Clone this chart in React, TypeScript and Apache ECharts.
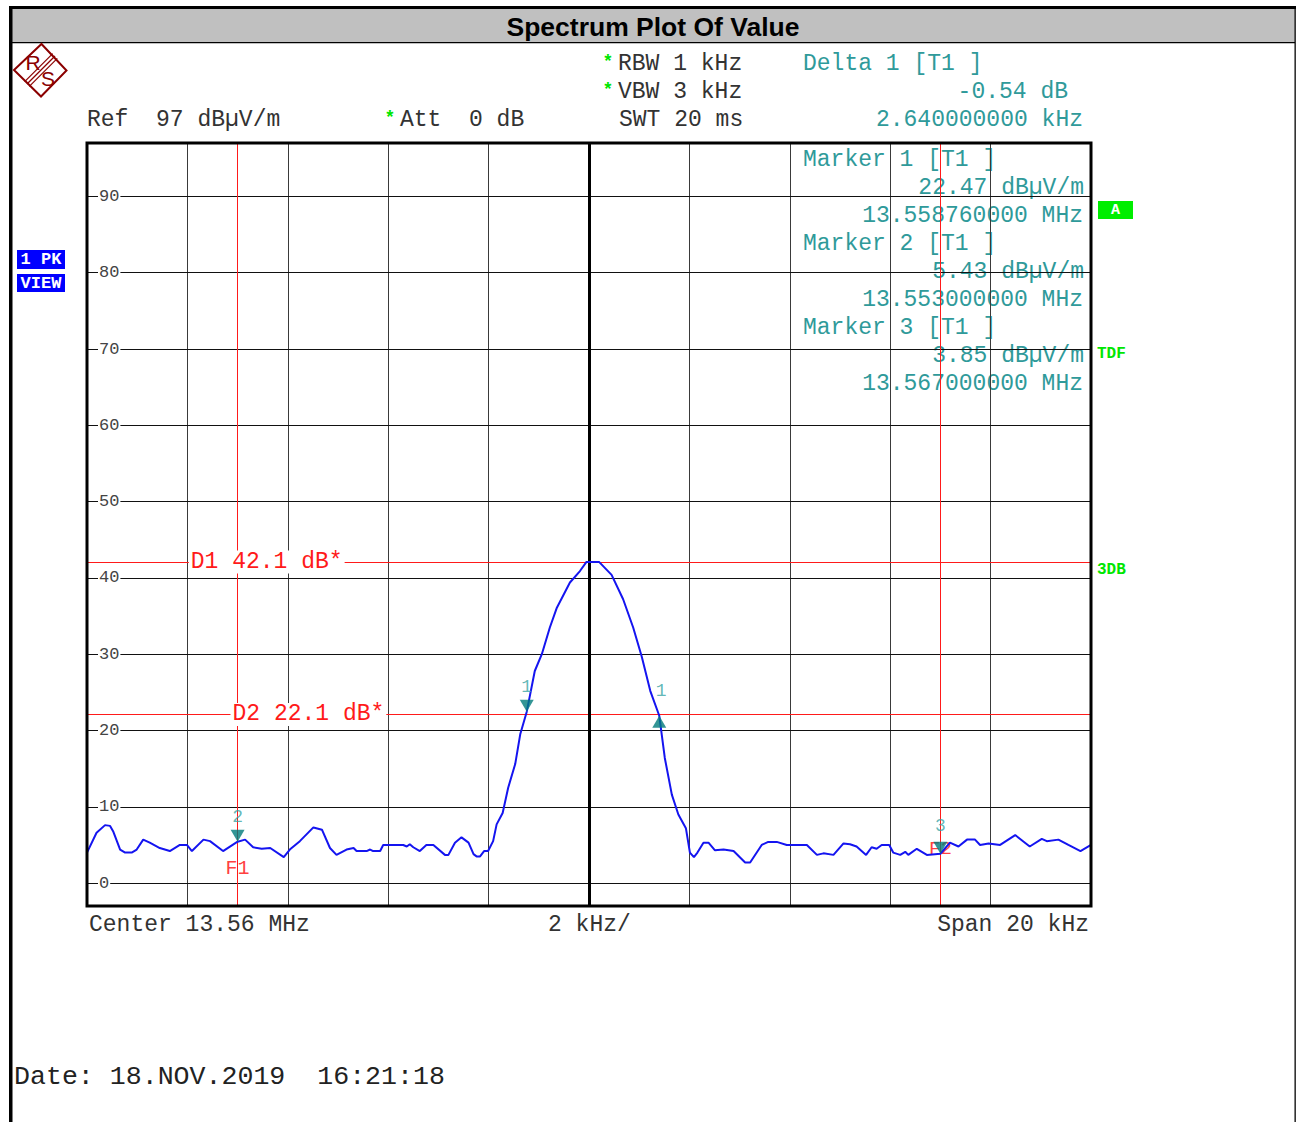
import React, { useEffect, useRef } from "react";
import * as echarts from "echarts";

// ---- Data (frequency offset from centre 13.56 MHz, in kHz; level in dBµV/m) ----
const traceFreqKHz = [
  -10.0, -9.81, -9.64, -9.54, -9.48, -9.34, -9.24, -9.11, -9.01, -8.88, -8.75, -8.55, -8.35, -8.15, -8.01,
  -7.91, -7.68, -7.55, -7.29, -7.0, -6.85, -6.69, -6.52, -6.35, -6.08, -5.96, -5.76, -5.49, -5.32, -5.16,
  -5.03, -4.83, -4.69, -4.63, -4.43, -4.36, -4.3, -4.16, -4.1, -3.7, -3.63, -3.57, -3.5, -3.37, -3.24,
  -3.1, -2.87, -2.8, -2.67, -2.54, -2.4, -2.3, -2.24, -2.17, -2.09, -2.01, -1.91, -1.84, -1.72, -1.61,
  -1.47, -1.37, -1.24, -1.08, -0.94, -0.78, -0.64, -0.38, -0.18, -0.05, 0.2, 0.45, 0.68, 0.88, 1.05,
  1.22, 1.4, 1.51, 1.65, 1.78, 1.93, 2.01, 2.09, 2.16, 2.28, 2.38, 2.51, 2.68, 2.88, 3.11,
  3.21, 3.44, 3.57, 3.74, 3.94, 4.34, 4.54, 4.67, 4.87, 5.07, 5.2, 5.33, 5.52, 5.63, 5.73,
  5.83, 5.98, 6.06, 6.2, 6.3, 6.36, 6.53, 6.73, 7.0, 7.19, 7.36, 7.53, 7.69, 7.79, 7.96,
  8.19, 8.49, 8.78, 9.02, 9.12, 9.35, 9.55, 9.79, 10.0,
];
const traceLevel = [
  4.0, 6.6, 7.6, 7.5, 6.8, 4.4, 4.0, 4.0, 4.4, 5.7, 5.3, 4.6, 4.2, 5.0, 5.0,
  4.2, 5.7, 5.5, 4.2, 5.43, 5.7, 4.7, 4.5, 4.6, 3.4, 4.4, 5.5, 7.3, 7.0, 4.6,
  3.7, 4.4, 4.6, 4.2, 4.2, 4.4, 4.2, 4.2, 5.0, 5.0, 4.8, 5.1, 4.7, 4.2, 5.0,
  5.0, 3.7, 3.7, 5.3, 6.0, 5.3, 3.8, 3.5, 3.5, 4.2, 4.2, 5.5, 7.7, 9.2, 12.5,
  15.6, 19.5, 22.47, 27.8, 30.0, 33.5, 36.1, 39.4, 40.9, 42.1, 42.1, 40.4, 37.2, 33.5, 29.7,
  25.2, 21.93, 16.4, 11.6, 9.0, 7.2, 4.0, 3.4, 4.0, 5.3, 5.3, 4.3, 4.4, 4.2, 2.7,
  2.7, 5.0, 5.4, 5.4, 5.0, 5.0, 3.7, 3.9, 3.7, 5.2, 5.1, 4.8, 3.7, 4.7, 4.5,
  5.0, 5.0, 4.0, 3.7, 4.1, 3.7, 4.5, 3.7, 3.85, 5.3, 4.8, 5.7, 5.7, 5.0, 5.2,
  5.0, 6.3, 4.8, 5.8, 5.5, 5.7, 5.0, 4.2, 5.0,
];

const markerNames = ["1", "2", "3"];
const markerFreqKHz = [-1.24, -7.0, 7.0];
const markerLevel = [22.47, 5.43, 3.85];
const markerFreqMHz = ["13.558760000", "13.553000000", "13.567000000"];

const deltaName = ["1"];
const deltaFreqKHz = [1.4];
const deltaLevel = [21.93];
const deltaDb = "-0.54";
const deltaSpan = "2.640000000";

const displayLineNames = ["D1", "D2"];
const displayLineLevels = [42.1, 22.1];
const freqLineNames = ["F1", "F2"];
const freqLineKHz = [-7.0, 7.0];

const refLevel = 97;
const bottomLevel = -3;
const spanKHz = 20;
const divKHz = 2;

// ---- Styles ----
const MONO = "'Courier New', 'Liberation Mono', 'DejaVu Sans Mono', monospace";
const TEAL_TEXT = "#2f9a9a";
const TEAL_MARK = "#007a7a";
const RED = "#ff1a1a";
const GREEN = "#00e600";
const TRACE = "#1414f0";

function txt(text: string, x: number, y: number, fill: string, font: string, align = "left") {
  return {
    type: "text",
    x,
    y,
    silent: true,
    style: {
      text,
      fill,
      font,
      align,
      textAlign: align,
      verticalAlign: "middle",
      textVerticalAlign: "middle",
    },
  };
}

export default function App() {
  const ref = useRef<HTMLDivElement>(null);

  useEffect(() => {
    if (!ref.current) return;
    const chart = echarts.init(ref.current, null, { renderer: "svg" });

    const f23 = `23px ${MONO}`;
    const graphics: any[] = [];

    // frame and title band
    graphics.push({ type: "rect", shape: { x: 12, y: 9, width: 1283, height: 33 }, style: { fill: "#c0c0c0" }, silent: true });
    graphics.push({ type: "rect", shape: { x: 9, y: 6, width: 1287, height: 3 }, style: { fill: "#000" }, silent: true });
    graphics.push({ type: "rect", shape: { x: 9, y: 6, width: 3.5, height: 1116 }, style: { fill: "#000" }, silent: true });
    graphics.push({ type: "rect", shape: { x: 1294.5, y: 6, width: 1.3, height: 1116 }, style: { fill: "#000" }, silent: true });
    graphics.push({ type: "rect", shape: { x: 12, y: 42, width: 1283, height: 1.3 }, style: { fill: "#000" }, silent: true });
    graphics.push(txt("Spectrum Plot Of Value", 653, 27, "#000", "bold 26.5px 'Liberation Sans', Arial, sans-serif", "center"));

    // R&S logo
    const logo = "#8b0000";
    graphics.push({
      type: "polygon",
      shape: { points: [[41.5, 44], [66.5, 70.5], [41, 96.5], [14, 70]] },
      style: { fill: "none", stroke: logo, lineWidth: 2 },
      silent: true,
    });
    [-2.3, 0, 2.3].forEach((d) => {
      graphics.push({
        type: "line",
        shape: { x1: 55 + d, y1: 56 + d, x2: 27 + d, y2: 84 + d },
        style: { stroke: logo, lineWidth: 1.2 },
        silent: true,
      });
    });
    graphics.push(txt("R", 33, 62, logo, "21px 'Liberation Sans', Arial, sans-serif", "center"));
    graphics.push(txt("S", 48, 78.5, logo, "21px 'Liberation Sans', Arial, sans-serif", "center"));

    // header
    graphics.push(txt("*", 608, 62, GREEN, `bold 18px ${MONO}`, "center"));
    graphics.push(txt("RBW 1 kHz", 618, 64, "#333", f23));
    graphics.push(txt("*", 608, 90, GREEN, `bold 18px ${MONO}`, "center"));
    graphics.push(txt("VBW 3 kHz", 618, 92, "#333", f23));
    graphics.push(txt("SWT 20 ms", 619, 120, "#333", f23));
    graphics.push(txt(`Delta ${deltaName[0]} [T1 ]`, 803, 64, TEAL_TEXT, f23));
    graphics.push(txt(`${deltaDb} dB`, 1068, 92, TEAL_TEXT, f23, "right"));
    graphics.push(txt(`${deltaSpan} kHz`, 1083, 120, TEAL_TEXT, f23, "right"));
    graphics.push(txt(`Ref  ${refLevel} dBµV/m`, 87, 120, "#333", f23));
    graphics.push(txt("*", 390, 118, GREEN, `bold 18px ${MONO}`, "center"));
    graphics.push(txt("Att  0 dB", 400, 120, "#333", f23));

    // marker info block
    markerNames.forEach((n, i) => {
      const y0 = 160 + i * 84;
      graphics.push(txt(`Marker ${n} [T1 ]`, 803, y0, TEAL_TEXT, f23));
      graphics.push(txt(`${markerLevel[i].toFixed(2)} dBµV/m`, 1084, y0 + 28, TEAL_TEXT, f23, "right"));
      graphics.push(txt(`${markerFreqMHz[i]} MHz`, 1083, y0 + 56, TEAL_TEXT, f23, "right"));
    });

    // side badges
    graphics.push({ type: "rect", shape: { x: 17, y: 250, width: 48, height: 19 }, style: { fill: "#0000ff" }, silent: true });
    graphics.push(txt("1 PK", 41, 259.5, "#fff", `bold 17px ${MONO}`, "center"));
    graphics.push({ type: "rect", shape: { x: 17, y: 274, width: 48, height: 18 }, style: { fill: "#0000ff" }, silent: true });
    graphics.push(txt("VIEW", 41, 283, "#fff", `bold 17px ${MONO}`, "center"));
    graphics.push({ type: "rect", shape: { x: 1098, y: 201, width: 35, height: 18 }, style: { fill: "#00ee00" }, silent: true });
    graphics.push(txt("A", 1115.5, 210, "#fff", `bold 15px ${MONO}`, "center"));
    graphics.push(txt("TDF", 1097, 354, GREEN, `bold 16px ${MONO}`));
    graphics.push(txt("3DB", 1097, 570, GREEN, `bold 16px ${MONO}`));

    // bottom
    graphics.push(txt("Center 13.56 MHz", 89, 925, "#333", f23));
    graphics.push(txt(`${divKHz} kHz/`, 548, 925, "#333", f23));
    graphics.push(txt(`Span ${spanKHz} kHz`, 1089, 925, "#333", f23, "right"));
    graphics.push(txt("Date: 18.NOV.2019  16:21:18", 14, 1077, "#222", `26.6px ${MONO}`));

    const tracePairs = traceFreqKHz.map((f, i) => [f, traceLevel[i]]);

    const labelBase = { fontFamily: MONO, fontSize: 23 };

    const option: any = {
      animation: false,
      backgroundColor: "#fff",
      textStyle: { fontFamily: MONO },
      grid: {
        left: 87,
        top: 143,
        right: 205,
        bottom: 216,
        show: true,
        borderColor: "#000",
        borderWidth: 3,
        backgroundColor: "transparent",
        z: 10,
      },
      xAxis: {
        type: "value",
        min: -spanKHz / 2,
        max: spanKHz / 2,
        interval: divKHz,
        axisLine: { show: false },
        axisTick: { show: false },
        axisLabel: { show: false },
        splitLine: { show: true, lineStyle: { color: "#3a3a3a", width: 1 } },
      },
      yAxis: {
        type: "value",
        min: bottomLevel,
        max: refLevel,
        splitNumber: 10,
        axisLine: { show: false },
        axisTick: { show: false },
        splitLine: { show: true, lineStyle: { color: "#111", width: 1 } },
        axisLabel: {
          inside: true,
          margin: 11,
          showMinLabel: false,
          showMaxLabel: false,
          color: "#444",
          fontFamily: MONO,
          fontSize: 17,
          backgroundColor: "#fff",
          padding: [0, 1],
          formatter: (v: number) => (Math.abs(v % 10) < 1e-6 ? String(Math.round(v)) : ""),
        },
        z: 3,
      },
      graphic: { elements: graphics },
      series: [
        {
          type: "line",
          data: tracePairs,
          showSymbol: false,
          symbol: "none",
          lineStyle: { color: TRACE, width: 2 },
          z: 5,
          markLine: {
            silent: true,
            symbol: "none",
            label: { show: false },
            data: [
              ...displayLineLevels.map((v) => ({ yAxis: v, lineStyle: { color: RED, width: 1, type: "solid" } })),
              ...freqLineKHz.map((f) => ({ xAxis: f, lineStyle: { color: RED, width: 1, type: "solid" } })),
              { xAxis: 0, lineStyle: { color: "#000", width: 3, type: "solid" } },
            ],
          },
          markPoint: {
            silent: true,
            symbol: "circle",
            symbolSize: 1,
            itemStyle: { color: "rgba(0,0,0,0)" },
            data: [
              {
                coord: [-6.42, displayLineLevels[0]],
                label: {
                  show: true,
                  position: "inside",
                  ...labelBase,
                  color: RED,
                  backgroundColor: "#fff",
                  padding: [0, 2],
                  formatter: `${displayLineNames[0]} ${displayLineLevels[0].toFixed(1)} dB*`,
                },
              },
              {
                coord: [-5.59, displayLineLevels[1]],
                label: {
                  show: true,
                  position: "inside",
                  ...labelBase,
                  color: RED,
                  backgroundColor: "#fff",
                  padding: [0, 2],
                  formatter: `${displayLineNames[1]} ${displayLineLevels[1].toFixed(1)} dB*`,
                },
              },
              {
                coord: [freqLineKHz[0], 1.97],
                label: { show: true, position: "inside", ...labelBase, fontSize: 20, color: "#ff4040", formatter: freqLineNames[0] },
              },
              {
                coord: [freqLineKHz[1], 4.45],
                label: { show: true, position: "inside", ...labelBase, fontSize: 19, color: "#ff4040", formatter: freqLineNames[1] },
              },
            ],
          },
        },
        {
          type: "scatter",
          data: markerFreqKHz.map((f, i) => ({
            value: [f, markerLevel[i]],
            name: markerNames[i],
            label: i === 2 ? { distance: 7 } : undefined,
          })),
          symbol: "path://M0 0L14 0L7 12Z",
          symbolSize: [14, 12],
          symbolOffset: [0, -6],
          itemStyle: { color: TEAL_MARK },
          label: {
            show: true,
            position: "top",
            distance: 4,
            formatter: "{b}",
            color: "#3aa5a5",
            fontFamily: MONO,
            fontSize: 18,
          },
          z: 7,
        },
        {
          type: "scatter",
          data: deltaFreqKHz.map((f, i) => ({ value: [f, deltaLevel[i]], name: deltaName[i] })),
          symbol: "path://M7 0L14 12L0 12Z",
          symbolSize: [14, 12],
          symbolOffset: [0, 6],
          itemStyle: { color: TEAL_MARK },
          label: {
            show: true,
            position: "top",
            distance: 16,
            offset: [2, 0],
            formatter: "{b}",
            color: "#3aa5a5",
            fontFamily: MONO,
            fontSize: 18,
          },
          z: 7,
        },
      ],
    };

    chart.setOption(option);
    return () => {
      chart.dispose();
    };
  }, []);

  return (
    <div
      ref={ref}
      style={{ position: "absolute", left: 0, top: 0, width: 1296, height: 1122, background: "#fff" }}
    />
  );
}
